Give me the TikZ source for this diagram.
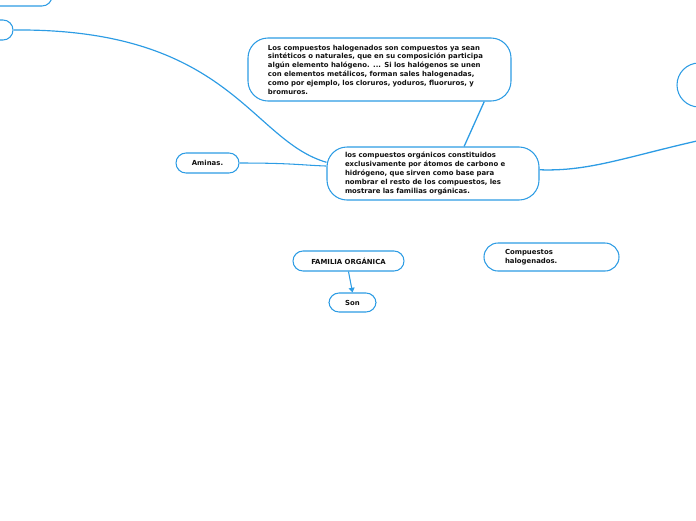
\documentclass[tikz,border=0pt]{standalone}
\usepackage{fontspec}
\setmainfont{DejaVu Sans}
\usetikzlibrary{arrows.meta,positioning,backgrounds}
\definecolor{MapBlue}{HTML}{2D9CE4}
\definecolor{MapInk}{HTML}{111111}
\tikzset{
  % Bubble holding a block of text, left aligned
  idea/.style={
    rectangle, rounded corners=#1,
    draw=MapBlue, line width=0.9pt, fill=white,
    align=left, inner sep=2pt, text=MapInk,
    font=\bfseries\fontsize{5.9}{7.5}\selectfont
  },
  % Small pill label
  pill/.style={
    rectangle, rounded corners=0.3cm,
    draw=MapBlue, line width=0.9pt, fill=white,
    minimum height=0.6cm, align=center, inner sep=2pt, text=MapInk,
    font=\bfseries\fontsize{5.9}{7.5}\selectfont
  },
  % Connector
  link/.style={draw=MapBlue, line width=#1},
  link/.default=0.9pt,
  % Arrow
  arr/.style={-{Triangle[length=4pt,width=5pt]}, draw=MapBlue, line width=0.9pt}
}

\begin{document}
\begin{tikzpicture}[x=0.03cm, y=-0.03cm]
  \useasboundingbox (0,0) rectangle (696,520);
  \clip (0,0) rectangle (696,520);

  % Central topic
  \node[idea=0.6cm, minimum width=6.36cm, minimum height=1.59cm, text width=5.28cm] (organic) at (433,173.5)
    {los compuestos orgánicos constituidos\\
     exclusivamente por átomos de carbono e\\
     hidrógeno, que sirven como base para\\
     nombrar el resto de los compuestos, les\\
     mostrare las familias orgánicas.};
  \node[idea=0.6cm, minimum width=7.89cm, minimum height=1.89cm, text width=6.69cm] (halotext) at (379.5,69.5)
    {Los compuestos halogenados son compuestos ya sean\\
     sintéticos o naturales, que en su composición participa\\
     algún elemento halógeno. ... Si los halógenos se unen\\
     con elementos metálicos, forman sales halogenadas,\\
     como por ejemplo, los cloruros, yoduros, fluoruros, y\\
     bromuros.};
  \node[pill, minimum width=1.89cm] (aminas) at (207.5,163) {Aminas.};
  \node[pill, minimum width=3.33cm] (familia) at (348.5,261) {FAMILIA ORGÁNICA};
  \node[pill, minimum width=1.41cm, minimum height=0.57cm] (son) at (352.5,302.5) {Son};
  \node[idea=0.42cm, minimum width=4.05cm, minimum height=0.84cm, text width=2.79cm] (halonames) at (551.5,257)
    {Compuestos\\ halogenados.};

  % Topics cut by the page edge
  \node[pill, minimum width=3.36cm] (offtop) at (-4,-4) {};
  \node[pill, minimum width=1.8cm] (offleft) at (-17,30) {};
  \node[idea=0.66cm, minimum width=3.78cm, minimum height=1.32cm] (offright) at (740,85) {};
  \coordinate (farright) at (760,128);

  \begin{scope}[on background layer]
    \draw[link=1pt] (offleft.east) .. controls (230,28) and (250,140) .. (organic.174);
    \draw[link] (aminas.east) .. controls (290,163) and (300,165) .. (organic.176);
    \draw[link=1.1pt] (organic.41) -- (halotext.-17);
    \draw[link=1.1pt] (organic.2) .. controls (600,172) and (640,150) .. (farright);
  \end{scope}
  \draw[arr] (familia.south) -- (son.north);

\end{tikzpicture}
\end{document}
